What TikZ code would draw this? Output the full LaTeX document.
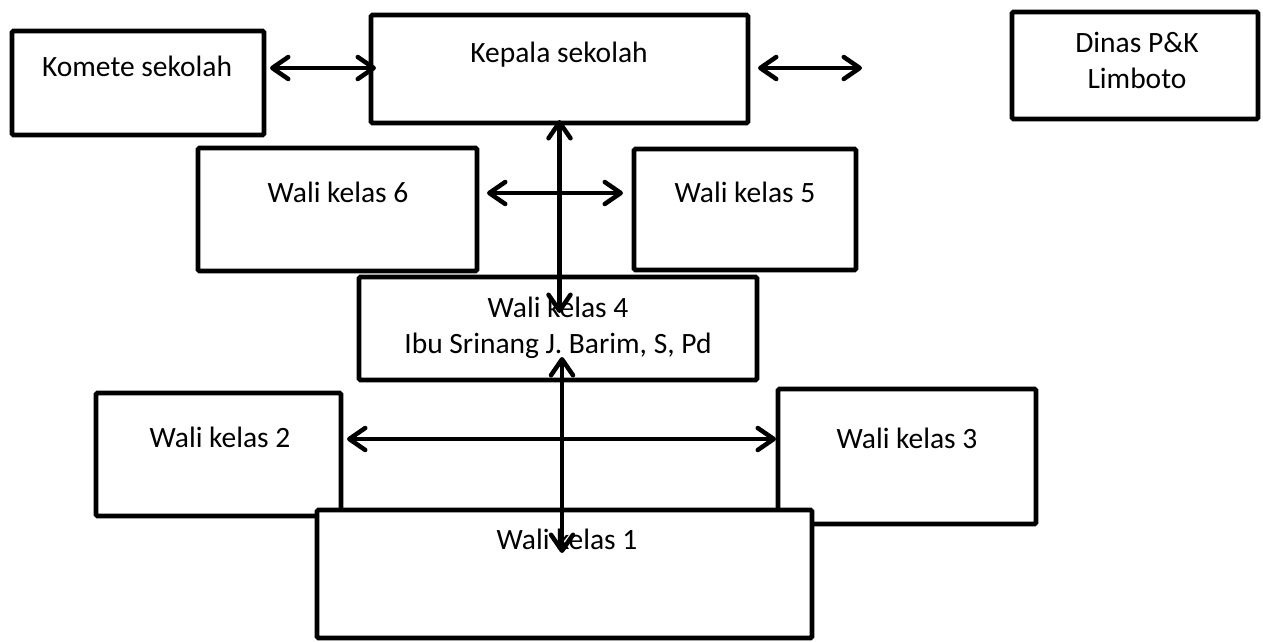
\documentclass[tikz,border=0pt]{standalone}
\usepackage{fontspec}
\setmainfont{Carlito}
\usetikzlibrary{arrows.meta}
\begin{document}
\begin{tikzpicture}[x=1pt,y=-1pt,
  box/.style={draw, line width=4.8pt, fill=white, outer sep=0pt, inner sep=0pt, rounded corners=1.5pt},
  txt/.style={font=\fontsize{29.5}{36}\selectfont, anchor=base, inner sep=0pt, align=center},
  arr/.style={line width=4.5pt, {Straight Barb[length=16pt,width=22pt,round]}-{Straight Barb[length=16pt,width=22pt,round]}}]
\useasboundingbox (0,0) rectangle (1263,641);
% boxes
\node[box, minimum width=252pt, minimum height=104pt] (kom) at (138,83) {};
\node[box, minimum width=377pt, minimum height=108pt] (kep) at (559.5,69) {};
\node[box, minimum width=246pt, minimum height=107pt] (dinas) at (1135,65.5) {};
\node[box, minimum width=279pt, minimum height=123pt] (w6) at (337.5,209.5) {};
\node[box, minimum width=222pt, minimum height=121pt] (w5) at (745,209.5) {};
\node[box, minimum width=398pt, minimum height=103pt] (w4) at (558,328.5) {};
\node[box, minimum width=245pt, minimum height=123pt] (w2) at (218.5,454.5) {};
\node[box, minimum width=258pt, minimum height=135pt] (w3) at (907,456.5) {};
\node[box, minimum width=495pt, minimum height=128pt] (w1) at (564.5,574) {};
% texts
\node[txt] (komT) at (137,76) {Komete sekolah};
\node[txt] (kepT) at (559,62) {Kepala sekolah};
\node[txt] (dinasT) at (1137,88) {Dinas P\&K\\Limboto};
\node[txt] (w6T) at (338,202) {Wali kelas 6};
\node[txt] (w5T) at (745,202) {Wali kelas 5};
\node[txt] (w4T) at (558,353) {Wali kelas 4\\Ibu Srinang J. Barim, S, Pd};
\node[txt] (w2T) at (220,447) {Wali kelas 2};
\node[txt] (w3T) at (907,448) {Wali kelas 3};
\node[txt] (w1T) at (567,549) {Wali kelas 1};
% connectors
\coordinate (kepR) at (862,68);
\draw[arr] ([xshift=6pt,yshift=15pt]kom.east) -- ([xshift=5pt,yshift=1pt]kep.west);
\draw[arr] ([xshift=10pt,yshift=1pt]kep.east) -- (kepR);
\draw[arr] ([xshift=10pt,yshift=16.5pt]w6.east) -- ([xshift=-11pt,yshift=16.5pt]w5.west);
\draw[arr] ([yshift=3pt]kep.south) -- ([xshift=1.5pt,yshift=-36pt]w4.north);
\draw[arr] ([xshift=6pt,yshift=15.5pt]w2.east) -- ([xshift=-2pt,yshift=17.5pt]w3.west);
\draw[arr] ([xshift=4pt,yshift=23pt]w4.south) -- ([xshift=-2.5pt,yshift=-43pt]w1.north);
\end{tikzpicture}
\end{document}
